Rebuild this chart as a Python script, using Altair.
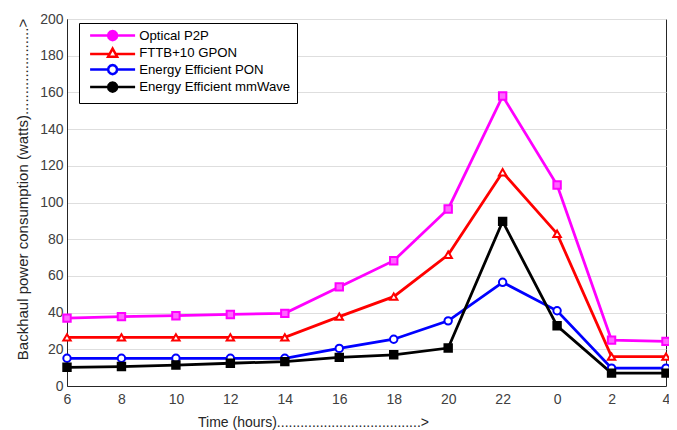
import altair as alt
import pandas as pd

hours = ["6", "8", "10", "12", "14", "16", "18", "20", "22", "0", "2", "4"]
series_names = ["Optical P2P", "FTTB+10 GPON", "Energy Efficient PON", "Energy Efficient mmWave"]
optical_p2p = [37, 37.8, 38.3, 39, 39.6, 54, 68.3, 96.5, 158, 109.5, 25, 24.3]
fttb_gpon = [26.5, 26.5, 26.5, 26.5, 26.5, 37.8, 48.7, 71.5, 116.5, 83, 16, 16]
ee_pon = [15.1, 15.1, 15.1, 15.1, 15.1, 20.5, 25.5, 35.5, 56.5, 41, 9.7, 9.7]
ee_mmwave = [10.2, 10.6, 11.4, 12.4, 13.3, 15.6, 17, 20.7, 89.7, 32.8, 7, 7]

colors = ["#ff00ff", "#ff0000", "#0000ff", "#000000"]
plot_shapes = ["square", "triangle-up", "circle", "square"]
plot_fills = ["#ff66ff", "white", "white", "#000000"]
legend_fills = ["#ff00ff", "white", "white", "#000000"]
# legend glyphs: short line segment with a marker (12-gon circle / triangle)
circ = ("M1,0L0.866,0.5L0.5,0.866L0,1L-0.5,0.866L-0.866,0.5L-1,0L-0.866,-0.5"
        "L-0.5,-0.866L0,-1L0.5,-0.866L0.866,-0.5Z")
seg = "M-5,0L-1,0M1,0L5,0M"
legend_shapes = [
    seg + circ[1:],
    "M-5,0.2L-0.55,0.2M0.55,0.2L5,0.2M0,-1L1,0.8L-1,0.8Z",
    seg + circ[1:],
    seg + circ[1:],
]

rows = []
for name, vals in zip(series_names, [optical_p2p, fttb_gpon, ee_pon, ee_mmwave]):
    for h, v in zip(hours, vals):
        rows.append({"t": h, "v": v, "s": name})
df = pd.DataFrame(rows)

x_title = "Time (hours)" + "." * 37 + ">"
y_title = "Backhaul power consumption (watts)" + "." * 21 + ">"

x = alt.X("t:N", sort=hours, scale=alt.Scale(type="point", padding=0),
          axis=alt.Axis(title=x_title, labelAngle=0, labelFontSize=14, labelColor="#404040",
                        ticks=False, labelPadding=6, titleFontSize=14, titleFontWeight="normal",
                        titleColor="#262626", titleX=246, titleY=36, titleBaseline="middle",
                        domainColor="#262626", gridColor="#dedede"))
y = alt.Y("v:Q", scale=alt.Scale(domain=[0, 200], nice=False),
          axis=alt.Axis(title=y_title, values=list(range(0, 201, 20)), labelFontSize=14,
                        labelColor="#404040", ticks=False, labelPadding=4, titleFontSize=15,
                        titleFontWeight="normal", titleColor="#262626", titleX=-45, titleY=170,
                        titleBaseline="middle", domainColor="#262626", gridColor="#dedede"))

stroke_scale = alt.Scale(domain=series_names, range=colors)

lines = alt.Chart().mark_line(strokeWidth=2.8).encode(
    x=x, y=y,
    stroke=alt.Stroke("s:N", scale=stroke_scale, legend=None),
)

points = alt.Chart().mark_point(size=55, strokeWidth=2, opacity=1).encode(
    x=x, y=y,
    stroke=alt.Stroke("s:N", scale=stroke_scale, legend=None),
    fill=alt.Fill("s:N", scale=alt.Scale(domain=series_names, range=plot_fills), legend=None),
    shape=alt.Shape("s:N", scale=alt.Scale(domain=series_names, range=plot_shapes), legend=None),
)

leg = alt.Legend(title=None, orient="none", legendX=12, legendY=4, fillColor="white",
                 strokeColor="black", padding=6, symbolOffset=21, labelOffset=20,
                 symbolSize=81, symbolStrokeWidth=2.5, symbolOpacity=1,
                 labelFontSize=13.2, labelColor="black", rowPadding=-2.5, labelLimit=300)

legend_layer = alt.Chart().mark_point(size=81, strokeWidth=2.5, opacity=0).encode(
    x=x, y=y,
    stroke=alt.Stroke("s:N", scale=alt.Scale(domain=series_names, range=colors), legend=leg),
    fill=alt.Fill("s:N", scale=alt.Scale(domain=series_names, range=legend_fills), legend=leg),
    shape=alt.Shape("s:N", scale=alt.Scale(domain=series_names, range=legend_shapes), legend=leg),
)

chart = alt.layer(lines, points, legend_layer, data=df).resolve_scale(
    stroke="independent", fill="independent", shape="independent"
).properties(
    width=599, height=367,
    padding={"left": 59, "top": 11, "right": 3, "bottom": 44},
    autosize=alt.AutoSizeParams(type="none"),
    background="white",
).configure(font="Liberation Sans").configure_view(stroke="#262626", strokeWidth=1)

chart.save("out.html", embed_options={"renderer": "svg", "actions": False})
